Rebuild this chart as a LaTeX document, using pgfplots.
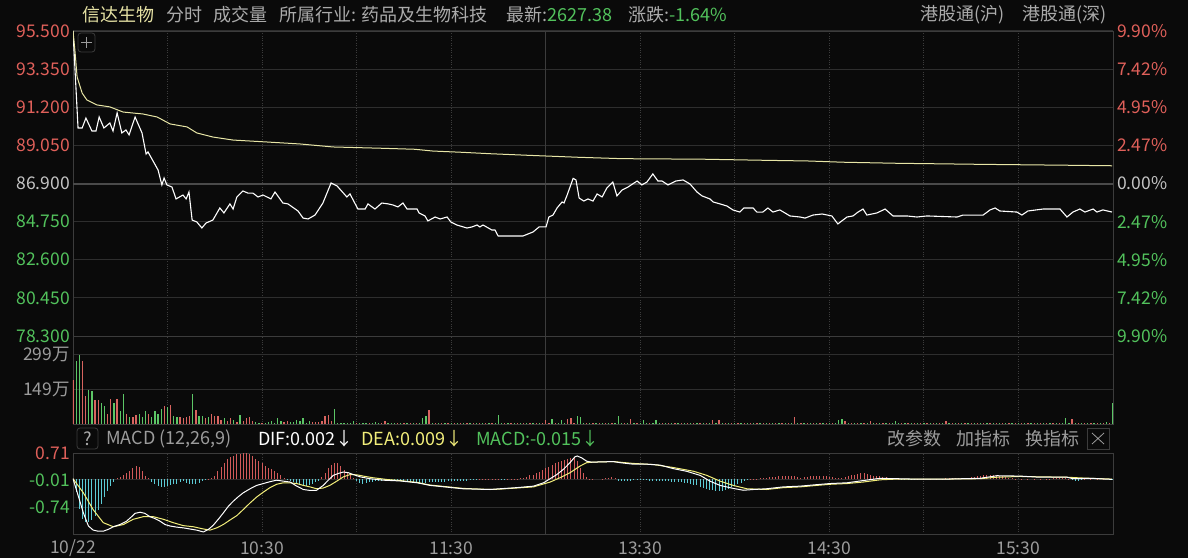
\documentclass[border=0pt]{standalone}
\usepackage{fontspec}
\setmainfont{Noto Sans CJK SC}
\usepackage{pgfplots}
\pgfplotsset{compat=1.18}

\definecolor{bg}{HTML}{0A0A0A}
\definecolor{gridc}{HTML}{2E2E2E}
\definecolor{framec}{HTML}{3C3C3C}
\definecolor{zeroc}{HTML}{4A4A4A}
\definecolor{upred}{HTML}{E0605A}
\definecolor{dngreen}{HTML}{52C25C}
\definecolor{midgray}{HTML}{C4C4C4}
\definecolor{lblgray}{HTML}{9C9C9C}
\definecolor{hdrgray}{HTML}{ABABAB}
\definecolor{namey}{HTML}{E6E2A4}
\definecolor{avgy}{HTML}{E8E6A6}
\definecolor{deay}{HTML}{F2EE7A}
\definecolor{volred}{HTML}{D8645F}
\definecolor{volgreen}{HTML}{5CC666}
\definecolor{histred}{HTML}{D25A5A}
\definecolor{histcyan}{HTML}{5CCCD6}

\newcommand\fs{\fontsize{17.5}{20}\selectfont}
\newcommand\hs{\fontsize{18}{21}\selectfont}

\pgfplotsset{
  panel/.style={
    scale only axis, width=1040pt,
    xmin=0, xmax=330,
    axis line style={draw=framec, line width=0.8pt},
    tick style={draw=none}, major tick length=0pt,
    xtick={30,60,90,120,180,210,240,270,300},
    xticklabels={},
    xmajorgrids, ymajorgrids,
    x grid style={draw=framec, dotted, line width=0.8pt},
    y grid style={draw=gridc, line width=1pt},
    yticklabel style={font=\fs, anchor=east, inner sep=0pt, xshift=-3pt},
  },
}

\begin{document}
\begin{tikzpicture}
\useasboundingbox (0pt,0pt) rectangle (1188pt,558pt);
\fill[bg] (0pt,0pt) rectangle (1188pt,558pt);

% header line
\node[anchor=west, inner sep=0pt, text=namey, font=\hs] at (82pt,543.5pt) {信达生物};
\node[anchor=west, inner sep=0pt, text=hdrgray, font=\hs] at (166pt,543.5pt) {分时};
\node[anchor=west, inner sep=0pt, text=hdrgray, font=\hs] at (213pt,543.5pt) {成交量};
\node[anchor=west, inner sep=0pt, text=hdrgray, font=\hs] at (279pt,543.5pt) {所属行业: 药品及生物科技};
\node[anchor=west, inner sep=0pt, text=hdrgray, font=\hs] at (506pt,543.5pt) {最新:{\color{dngreen}2627.38}};
\node[anchor=west, inner sep=0pt, text=hdrgray, font=\hs] at (628pt,543.5pt) {涨跌:{\color{dngreen}-1.64\%}};
\node[anchor=west, inner sep=0pt, text=hdrgray, font=\hs] at (920pt,543.5pt) {港股通(沪)};
\node[anchor=west, inner sep=0pt, text=hdrgray, font=\hs] at (1022pt,543.5pt) {港股通(深)};

% price panel
\begin{axis}[panel, at={(73pt,222pt)}, anchor=south west, height=305pt,
  ymin=78.3, ymax=95.5,
  ytick={78.3,80.45,82.6,84.75,86.9,89.05,91.2,93.35,95.5},
  yticklabels={\color{dngreen}78.300,\color{dngreen}80.450,\color{dngreen}82.600,\color{dngreen}84.750,\color{midgray}86.900,\color{upred}89.050,\color{upred}91.200,\color{upred}93.350,\color{upred}95.500}]
\draw[framec, line width=0.8pt] (axis cs:150,78.3) -- (axis cs:150,95.5);
\draw[zeroc, line width=2pt] (axis cs:0,86.9) -- (axis cs:330,86.9);
\addplot[white, line width=1.1pt] coordinates {
(0,95.50)(1.6,90.03)(2.9,90.03)(4.1,90.59)(6.0,89.86)(7.3,89.86)(8.3,90.65)(9.8,90.03)
(11.7,90.31)(12.7,89.86)(14.0,90.88)(15.5,89.75)(16.8,89.92)(17.8,89.64)(19.7,90.65)
(21.9,89.75)(23.2,88.56)(23.8,88.68)(27.0,87.66)(28.2,86.82)(28.9,87.21)(29.8,86.82)
(31.4,86.70)(32.7,86.03)(34.9,86.25)(35.9,86.03)(36.8,86.42)(37.8,84.84)(39.3,84.73)
(40.9,84.39)(42.2,84.67)(44.4,84.84)(46.6,85.52)(47.9,85.24)(49.8,85.75)(50.8,85.46)
(52.0,86.14)(53.9,86.48)(55.5,86.36)(57.1,86.36)(58.7,86.14)(60.3,86.25)(62.8,86.03)
(64.1,86.42)(66.6,85.80)(68.2,85.75)(71.4,85.35)(73.0,84.95)(74.6,84.90)(76.8,85.12)
(79.3,85.80)(81.9,86.93)(83.8,86.76)(86.9,86.14)(87.9,86.31)(90.4,85.46)(92.7,85.46)
(93.6,85.75)(95.8,85.46)(98.0,85.80)(100.0,85.75)(101.5,85.69)(103.1,85.58)(104.7,85.80)
(106.0,85.46)(109.2,85.46)(109.8,85.24)(111.7,85.07)(112.6,84.79)(114.9,85.01)(116.5,84.90)
(118.7,85.01)(119.9,84.73)(121.8,84.56)(125.0,84.39)(126.6,84.45)(128.2,84.56)(129.1,84.45)
(130.1,84.56)(132.9,84.28)(133.9,84.28)(134.9,83.94)(142.8,83.94)(146.0,84.17)(147.9,84.45)
(150.1,84.45)(151.0,85.01)(152.3,85.12)(153.6,85.52)(155.2,85.86)(155.8,85.80)(156.8,86.25)
(158.7,87.19)(159.6,87.10)(160.6,86.08)(162.1,85.91)(163.4,86.03)(165.0,85.91)(166.3,86.31)
(167.9,86.14)(169.4,86.65)(171.3,86.98)(172.6,86.20)(174.2,86.53)(176.1,86.70)(179.0,87.04)
(180.5,86.82)(182.1,86.98)(184.0,87.44)(185.6,87.04)(186.9,87.04)(188.8,86.82)(191.3,87.04)
(193.6,87.10)(195.8,86.87)(198.0,86.42)(199.6,86.20)(202.1,86.03)(203.1,85.86)(204.3,85.80)
(205.3,85.75)(207.5,85.63)(209.4,85.41)(211.6,85.29)(212.9,85.52)(215.8,85.52)(217.0,85.29)
(218.9,85.29)(220.5,85.52)(222.1,85.29)(224.3,85.41)(227.5,85.07)(230.7,85.01)(232.3,84.95)
(234.8,85.12)(237.7,85.18)(240.8,85.07)(242.7,84.62)(245.6,85.01)(247.5,85.07)(249.1,85.29)
(250.7,85.46)(251.9,85.12)(255.1,85.24)(257.7,85.46)(260.2,85.07)(264.6,85.07)(267.8,85.01)
(271.0,85.07)(280.5,85.01)(282.4,85.12)(288.8,85.12)(291.0,85.41)(292.6,85.52)(294.1,85.35)
(299.5,85.29)(301.1,85.12)(303.0,85.35)(307.8,85.46)(313.2,85.46)(315.4,85.01)(317.3,85.29)
(319.5,85.46)(321.1,85.29)(323.7,85.46)(324.9,85.29)(326.8,85.41)(329.7,85.29)
};
\end{axis}

% right percentage scale and average price line
\begin{axis}[scale only axis, width=1040pt, height=305pt, at={(73pt,222pt)}, anchor=south west,
  xmin=0, xmax=330, ymin=78.3, ymax=95.5,
  axis line style={draw=none}, tick style={draw=none}, major tick length=0pt,
  xtick=\empty, yticklabel pos=right,
  ytick={78.3,80.45,82.6,84.75,86.9,89.05,91.2,93.35,95.5},
  yticklabel style={font=\fs, anchor=west, inner sep=0pt, xshift=4pt},
  yticklabels={\color{dngreen}9.90\%,\color{dngreen}7.42\%,\color{dngreen}4.95\%,\color{dngreen}2.47\%,\color{midgray}0.00\%,\color{upred}2.47\%,\color{upred}4.95\%,\color{upred}7.42\%,\color{upred}9.90\%}]
\addplot[avgy, line width=1pt] coordinates {
(0,95.5)(0.6,94.43)(1.3,92.91)(2.9,92.00)(4.4,91.61)(7.6,91.33)(11.7,91.22)(15.9,90.93)
(22.2,90.82)(26.7,90.65)(30.8,90.26)(36.2,90.09)(39.3,89.75)(44.4,89.52)(50.8,89.35)
(61.6,89.24)(72.0,89.13)(82.5,88.96)(97.4,88.89)(108.5,88.83)(114.2,88.73)(123.4,88.66)
(132.3,88.58)(144.4,88.49)(160.2,88.38)(174.2,88.30)(199.9,88.27)(218.9,88.21)(233.2,88.17)
(244.3,88.10)(261.5,88.04)(288.4,87.98)(315.4,87.93)(329.7,87.90)
};
\end{axis}

% volume panel
\begin{axis}[panel, at={(73pt,134pt)}, anchor=south west, height=88pt,
  ymin=0, ymax=381.3,
  ytick={149.5,299},
  yticklabels={\color{lblgray}149万,\color{lblgray}299万}]
\draw[framec, line width=0.8pt] (axis cs:150,0) -- (axis cs:150,381.3);
\addplot[volred, ycomb, line width=1.3pt] coordinates {
(0,189)(3,275)(4,120)(7,105)(8,105)(11,45)(12,110)(14,110)(17,45)(19,29)(20,40)(24,44)
(29,79)(31,84)(34,32)(35,27)(36,29)(37,33)(39,62)(42,27)(44,45)(45,36)(46,36)(47,19)
(49,14)(50,27)(52,8)(54,14)(55,27)(56,29)(57,14)(60,4)(67,8)(68,11)(76,8)(77,8)(78,8)
(79,14)(80,33)(81,37)(82,14)(90,6)(94,4)(98,4)(99,11)
(103,4)(105,4)(107,4)(109,4)(113,59)(115,4)(117,4)(119,4)(121,4)(123,4)(125,4)(127,4)
(129,4)(131,4)(133,4)(137,4)(139,4)(141,4)(143,4)(145,4)(147,4)(149,4)(150,19)(151,4)
(153,4)(157,22)(158,26)(159,4)(163,4)(165,4)(167,4)(169,4)(171,4)(175,4)(177,22)(179,4)
(183,4)(187,4)(189,4)(191,4)(193,4)(195,4)(197,4)(199,4)(201,4)(203,19)(205,16)(207,4)
(209,4)(211,4)(213,4)(215,4)(217,4)(219,4)(221,4)(223,4)(225,4)(227,4)(229,31)(231,4)
(233,4)(235,4)(237,4)(239,4)(241,4)(245,14)(247,4)(249,4)(251,4)(253,14)(255,4)(257,4)
(259,4)(263,4)(265,4)(267,4)(269,4)(271,4)(273,4)(275,4)(277,11)(279,4)(281,4)(283,4)
(285,4)(287,4)(289,4)(291,4)(293,4)(295,4)(297,4)(299,4)(301,4)(303,4)(305,4)(307,4)
(309,4)(311,4)(313,4)(317,20)(319,4)(321,4)(323,4)(325,4)(327,4)(329,4)
};
\addplot[volgreen, ycomb, line width=1.3pt] coordinates {
(1,271)(2,299)(5,149)(6,144)(9,91)(10,79)(13,91)(15,58)(16,131)(18,29)(21,45)(22,32)
(23,58)(25,29)(26,58)(27,44)(28,66)(30,72)(32,36)(33,32)(38,131)(40,36)(41,33)(43,32)
(48,27)(51,19)(53,37)(58,8)(59,4)(61,4)(62,8)(63,14)(64,4)(65,27)(66,11)(69,8)(70,8)
(71,19)(72,11)(73,27)(74,4)(75,14)(83,66)(84,6)(85,4)(86,4)(87,4)(88,4)(89,14)(91,4)
(92,4)(93,4)(95,4)(96,8)(97,4)(100,4)(101,4)(102,4)
(104,3)(106,3)(108,3)(110,3)(111,26)(112,36)(114,3)(116,3)(118,3)(120,3)(122,3)(124,3)
(126,3)(128,3)(130,3)(132,3)(134,3)(135,40)(136,3)(138,3)(140,3)(142,3)(144,3)(146,3)
(148,3)(152,22)(154,3)(155,16)(156,3)(160,33)(161,30)(162,3)(164,3)(166,3)(168,3)(170,3)
(172,3)(173,36)(174,3)(176,3)(178,3)(180,3)(181,16)(182,3)(184,3)(185,16)(186,3)(188,3)
(190,3)(192,3)(194,3)(196,3)(198,3)(200,3)(202,3)(204,3)(206,3)(208,3)(210,3)(212,3)
(214,3)(216,3)(218,3)(220,3)(222,3)(224,3)(226,3)(228,3)(230,3)(232,3)(234,3)(236,3)
(238,3)(240,3)(242,3)(243,17)(244,22)(246,3)(248,3)(250,3)(252,3)(254,3)(256,3)(258,3)
(260,3)(261,11)(262,3)(264,3)(266,3)(268,3)(270,3)(272,3)(274,3)(276,3)(278,3)(280,3)
(282,3)(284,3)(286,3)(288,3)(290,3)(292,3)(294,3)(296,3)(298,3)(300,3)(302,3)(304,3)
(306,3)(308,3)(310,3)(312,3)(314,3)(315,25)(316,3)(318,3)(320,3)(322,3)(324,3)(326,3)
(328,7)(330,91)
};
\end{axis}

% MACD header
\draw[framec, rounded corners=3pt, line width=0.8pt] (77pt,109pt) rectangle (98pt,130pt);
\node[text=hdrgray, font=\hs, inner sep=0pt] at (87.5pt,119.5pt) {?};
\node[anchor=west, inner sep=0pt, text=lblgray, font=\hs] at (106pt,119pt) {MACD (12,26,9)};
\node[anchor=west, inner sep=0pt, text=white, font=\hs] at (258pt,119pt) {DIF:0.002↓};
\node[anchor=west, inner sep=0pt, text=deay, font=\hs] at (361pt,119pt) {DEA:0.009↓};
\node[anchor=west, inner sep=0pt, text=dngreen, font=\hs] at (476pt,119pt) {MACD:-0.015↓};
\node[anchor=west, inner sep=0pt, text=lblgray, font=\hs] at (887pt,119pt) {改参数};
\node[anchor=west, inner sep=0pt, text=lblgray, font=\hs] at (956pt,119pt) {加指标};
\node[anchor=west, inner sep=0pt, text=lblgray, font=\hs] at (1025pt,119pt) {换指标};
\draw[framec, line width=0.8pt] (1087pt,109pt) rectangle (1109pt,130pt);
\draw[lblgray, line width=0.8pt] (1092pt,114pt) -- (1104pt,125pt) (1092pt,125pt) -- (1104pt,114pt);

% MACD panel
\begin{axis}[panel, at={(73pt,24pt)}, anchor=south west, height=81pt,
  ymin=-1.4648, ymax=0.71,
  ytick={-0.74,-0.01,0.71},
  yticklabels={\color{dngreen}-0.74,\color{dngreen}-0.01,\color{upred}0.71},
  xtick={0,30,60,90,120,180,210,240,270,300},
  xticklabels={10/22,,10:30,,11:30,13:30,,14:30,,15:30},
  xticklabel style={font=\fs, text=lblgray, anchor=center, yshift=-14pt}]
\draw[framec, line width=0.8pt] (axis cs:150,-1.4648) -- (axis cs:150,0.71);
\addplot[histred, ycomb, line width=1pt] coordinates {
(14,0.045)(15,0.07)(16,0.11)(17,0.16)(18,0.22)(19,0.31)(20,0.36)(21,0.34)(22,0.22)(23,0.09)
(24,0.03)(43,0.01)(44,0.05)(45,0.09)(46,0.22)(47,0.34)(48,0.45)(49,0.54)(50,0.61)(51,0.64)
(52,0.67)(53,0.69)(54,0.70)(55,0.70)(56,0.67)(57,0.63)(58,0.56)(59,0.49)(60,0.43)(61,0.36)
(62,0.31)(63,0.27)(64,0.22)(65,0.18)(66,0.11)(67,0.045)(79,0.06)(80,0.18)(81,0.31)(82,0.40)
(83,0.43)(84,0.43)(85,0.36)(86,0.25)(87,0.18)(88,0.11)(89,0.045)
(129,0.02)(130,0.02)(131,0.02)(132,0.02)(133,0.02)(134,0.01)(135,0.01)(138,0.01)(139,0.01)
(140,0.02)(141,0.02)(142,0.03)(143,0.045)(144,0.07)(145,0.11)(146,0.13)(147,0.18)(148,0.20)
(149,0.25)(150,0.30)(151,0.34)(152,0.38)(153,0.43)(154,0.47)(155,0.49)(156,0.52)(157,0.54)
(158,0.58)(159,0.61)(160,0.50)(161,0.31)(162,0.18)(163,0.07)(164,0.02)(165,0.01)
(168,0.02)(169,0.03)(170,0.05)(171,0.07)(172,0.04)
(215,0.01)(216,0.01)(217,0.02)(218,0.03)(219,0.04)(220,0.05)(221,0.06)(222,0.06)(223,0.07)
(224,0.08)(225,0.08)(226,0.09)(227,0.09)(228,0.08)(229,0.08)(230,0.07)(231,0.05)(232,0.06)
(233,0.07)(234,0.08)(235,0.09)(236,0.09)(237,0.09)(238,0.08)(239,0.08)(240,0.07)(241,0.06)
(242,0.05)(243,0.03)(244,0.04)(245,0.07)(246,0.09)(247,0.11)(248,0.13)(249,0.15)(250,0.16)
(251,0.16)(252,0.14)(253,0.12)(254,0.10)(255,0.09)(256,0.08)(257,0.07)(258,0.06)(259,0.05)
(260,0.04)(261,0.03)(262,0.02)(268,0.01)(270,0.01)(272,0.01)(274,0.01)(276,0.02)(277,0.03)
(278,0.03)(279,0.04)(280,0.04)(281,0.04)(282,0.05)(283,0.05)(284,0.05)(285,0.06)(286,0.07)
(287,0.08)(288,0.09)(289,0.11)(290,0.12)(291,0.13)(292,0.13)(293,0.12)(294,0.10)(295,0.08)
(296,0.06)(297,0.05)(298,0.03)(299,0.02)(301,0.01)(303,0.01)(305,0.01)(307,0.01)(309,0.01)
(310,0.02)(311,0.03)(312,0.04)(313,0.04)(314,0.04)(315,0.03)(316,0.02)(321,0.01)(323,0.01)
(325,0.01)(327,0.01)
};
\addplot[histcyan, ycomb, line width=1pt] coordinates {
(1,-0.35)(2,-0.80)(3,-1.05)(4,-1.15)(5,-1.13)(6,-1.08)(7,-0.98)(8,-0.82)(9,-0.65)(10,-0.48)
(11,-0.32)(12,-0.18)(13,-0.06)
(25,-0.07)(26,-0.13)(27,-0.18)(28,-0.21)(29,-0.20)(30,-0.18)(31,-0.16)(32,-0.13)(33,-0.11)
(34,-0.07)(35,-0.045)(36,-0.09)(37,-0.13)(38,-0.13)(39,-0.11)(40,-0.09)(41,-0.045)(42,-0.02)
(68,-0.02)(69,-0.05)(70,-0.07)(71,-0.11)(72,-0.13)(73,-0.16)(74,-0.18)(75,-0.16)(76,-0.12)
(77,-0.07)(78,-0.03)
(90,-0.045)(91,-0.09)(92,-0.11)(93,-0.09)(94,-0.07)(95,-0.07)(96,-0.05)(97,-0.045)(98,-0.035)
(99,-0.02)(100,-0.02)(101,-0.02)(102,-0.03)(103,-0.04)(104,-0.05)(105,-0.06)(106,-0.07)
(107,-0.08)(108,-0.09)(109,-0.09)(110,-0.10)(111,-0.10)(112,-0.09)(113,-0.08)(114,-0.08)
(115,-0.07)(116,-0.07)(117,-0.06)(118,-0.06)(119,-0.05)(120,-0.05)(121,-0.04)(122,-0.04)
(123,-0.04)(124,-0.03)(125,-0.03)(126,-0.02)(127,-0.02)(128,-0.01)(136,-0.01)(137,-0.01)
(173,-0.03)(174,-0.05)(175,-0.05)(176,-0.04)(177,-0.03)(178,-0.02)(179,-0.01)(180,-0.01)
(181,-0.02)(182,-0.02)(183,-0.03)(184,-0.03)(185,-0.035)(186,-0.04)(187,-0.04)(188,-0.05)
(189,-0.05)(190,-0.06)(191,-0.07)(192,-0.07)(193,-0.08)(194,-0.09)(195,-0.10)(196,-0.12)
(197,-0.14)(198,-0.16)(199,-0.19)(200,-0.22)(201,-0.25)(202,-0.27)(203,-0.29)(204,-0.30)
(205,-0.31)(206,-0.30)(207,-0.28)(208,-0.25)(209,-0.21)(210,-0.17)(211,-0.13)(212,-0.09)
(213,-0.05)(214,-0.02)
(263,-0.01)(264,-0.02)(265,-0.02)(266,-0.02)(267,-0.01)(317,-0.02)(318,-0.03)(319,-0.04)
(320,-0.02)(329,-0.01)(330,-0.015)
};
\addplot[deay, line width=1pt] coordinates {
(0,0.02)(3.3,-0.36)(6.4,-0.81)(9.6,-1.16)(12.8,-1.27)(16.0,-1.21)(19.1,-1.07)(22.3,-1.00)
(25.5,-1.00)(28.7,-1.07)(31.8,-1.16)(35.0,-1.24)(38.2,-1.27)(41.4,-1.33)(43.5,-1.36)
(45.6,-1.30)(47.7,-1.21)(49.8,-1.09)(52.0,-0.97)(54.0,-0.81)(56.2,-0.63)(58.3,-0.47)
(60.4,-0.34)(62.5,-0.22)(64.6,-0.13)(66.7,-0.09)(68.9,-0.09)(71.0,-0.11)(73.1,-0.16)
(75.2,-0.20)(77.3,-0.25)(79.4,-0.23)(81.5,-0.16)(83.7,-0.045)(85.8,0.07)(87.9,0.13)
(90.0,0.125)(92.1,0.09)(95.3,0.045)(99.5,0)(103.8,-0.03)(109.2,-0.08)(113.3,-0.15)
(123.7,-0.24)(132.3,-0.27)(135.5,-0.26)(146.1,-0.20)(151.4,-0.07)(154.5,0.045)(157.7,0.18)
(160.9,0.36)(163.0,0.45)(165.1,0.465)(171.4,0.48)(177.8,0.43)(184.2,0.40)(190.5,0.32)
(196.9,0.22)(201.1,0.11)(205.3,-0.045)(209.5,-0.16)(213.8,-0.25)(220.1,-0.27)(225.4,-0.22)
(230.7,-0.20)(236.0,-0.16)(240.2,-0.13)(245.6,-0.11)(250.7,-0.07)(256.1,-0.01)(261.5,0.01)
(266.5,0.01)(277.3,0.01)(287.8,0.02)(293.2,0.06)(300.5,0.08)(306.8,0.07)(315.4,0.06)
(320,0.04)(329.7,0.009)
};
\addplot[white, line width=1pt] coordinates {
(0,0.02)(1.7,-0.45)(3.3,-0.90)(4.9,-1.25)(6.4,-1.36)(8.0,-1.39)(9.6,-1.39)(11.2,-1.34)
(12.8,-1.27)(14.9,-1.21)(17.0,-1.12)(18.6,-1.00)(19.7,-0.91)(21.3,-0.88)(22.8,-0.91)
(24.4,-1.00)(26.0,-1.05)(27.6,-1.12)(29.2,-1.21)(30.8,-1.25)(32.9,-1.28)(35.0,-1.30)
(37.1,-1.33)(39.2,-1.36)(41.4,-1.41)(43.0,-1.34)(44.5,-1.23)(46.1,-1.07)(47.7,-0.90)
(49.3,-0.72)(50.9,-0.58)(52.5,-0.46)(54.0,-0.36)(56.2,-0.25)(58.3,-0.16)(60.4,-0.11)
(62.5,-0.06)(64.6,-0.02)(66.7,-0.045)(68.9,-0.07)(71.0,-0.18)(73.1,-0.27)(75.2,-0.295)
(77.3,-0.29)(79.4,-0.16)(81.0,-0.02)(82.6,0.11)(84.2,0.16)(85.8,0.20)(87.4,0.18)(89.0,0.13)
(91.1,0.07)(94.2,0.02)(98.5,-0.02)(103.8,-0.04)(109.2,-0.09)(113.3,-0.16)(123.7,-0.25)
(132.3,-0.27)(135.5,-0.25)(140.8,-0.22)(146.1,-0.18)(149.3,-0.09)(151.4,0.02)(153.5,0.13)
(155.6,0.27)(157.7,0.45)(159.3,0.61)(160.0,0.63)(161.4,0.58)(163.0,0.49)(164.6,0.465)
(167.2,0.47)(171.4,0.48)(173.6,0.45)(177.8,0.41)(182.0,0.41)(186.3,0.385)(190.5,0.29)
(194.7,0.22)(199.0,0.11)(202.1,-0.045)(205.3,-0.16)(209.5,-0.24)(212.7,-0.29)(215.9,-0.27)
(220.1,-0.25)(225.4,-0.20)(230.7,-0.18)(236.0,-0.14)(240.2,-0.11)(245.6,-0.09)(250.7,-0.03)
(256.1,0.03)(261.5,0.02)(266.5,0.01)(277.3,0.01)(287.8,0.03)(293.2,0.10)(300.5,0.09)
(306.8,0.06)(315.4,0.06)(317.3,0.02)(323,0.03)(329.7,0.002)
};
\end{axis}

% small marker box at the top left of the price panel
\draw[framec, rounded corners=3pt, line width=0.8pt] (78pt,506pt) rectangle (95pt,525pt);
\draw[lblgray, line width=0.8pt] (81pt,515.5pt) -- (92pt,515.5pt) (86.5pt,510pt) -- (86.5pt,521pt);
\end{tikzpicture}
\end{document}
